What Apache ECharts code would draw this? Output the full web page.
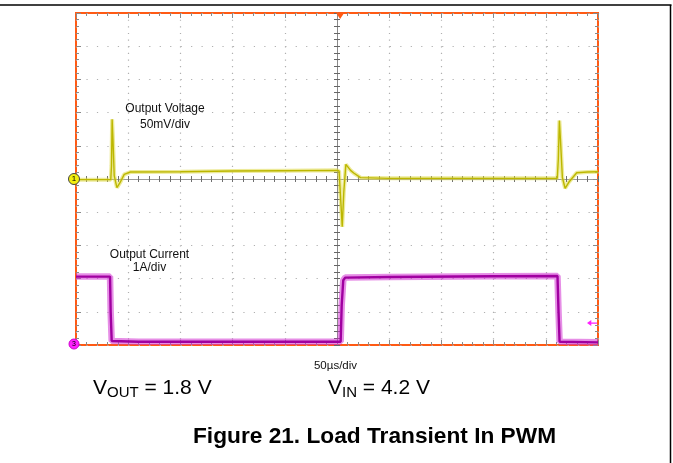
<!DOCTYPE html>
<html>
<head>
<meta charset="utf-8">
<script src="https://cdn.jsdelivr.net/npm/echarts@6/dist/echarts.min.js"></script>
<style>
  html, body { margin: 0; padding: 0; background: #fff; }
  #chart { width: 673px; height: 463px; }
</style>
</head>
<body>
<div id="chart"></div>
<script>
// ---- Data ----
// Time in µs (50 µs/div, 10 div), voltage deviation in mV (50 mV/div), current in A (1 A/div)
var voltTimes  = [0, 33.3, 34.0, 34.6, 35.4, 36.6, 39.2, 42, 46.2, 52, 100, 150, 200, 250, 252, 253.5, 255, 256.5, 258.5, 260, 263, 266, 272.5, 300, 350, 400, 461, 462, 463, 464, 465.9, 468.5, 472, 479.6, 490, 500];
var voltValues = [-1, -1, 20, 90, 60, 5, -13, -6, 7, 10.5, 11, 12, 12.5, 13, 12, -30, -72, -20, 22, 20, 13, 9, 2, 1, 1, 1, 1, 30, 88, 60, 2, -14, -5, 9.5, 10.5, 11];
var currTimes  = [0, 32.6, 33.2, 34.2, 60, 150, 253.5, 254.5, 256, 258, 300, 400, 461.2, 462.2, 463.2, 500];
var currValues = [2.06, 2.06, 1.0, 0.12, 0.1, 0.1, 0.1, 1.2, 1.95, 2.03, 2.05, 2.07, 2.08, 1.0, 0.1, 0.08];

function zip(a, b) { return a.map(function (t, i) { return [t, b[i]]; }); }
var voltData = zip(voltTimes, voltValues);
var currData = zip(currTimes, currValues);

var tickColor = '#8a8a8a';
var dotColor = '#b0b0b0';
var W = 522, H = 332;

function xTicks(pos, offset, len, minorLen, color, lineShow) {
  return {
    type: 'value', min: 0, max: 500, interval: 50, position: pos, offset: offset,
    axisLine: { show: !!lineShow, onZero: false, lineStyle: { color: '#9a9a9a', width: 1 } },
    axisTick: { show: true, inside: false, length: len, lineStyle: { color: color } },
    minorTick: { show: true, splitNumber: 5, length: minorLen, lineStyle: { color: color } },
    axisLabel: { show: false },
    splitLine: { show: false }
  };
}
function yTicks(pos, offset, len, minorLen, color, lineShow) {
  return {
    type: 'value', min: -250, max: 250, interval: 50, position: pos, offset: offset,
    axisLine: { show: !!lineShow, onZero: false, lineStyle: { color: '#8a8a8a', width: 1 } },
    axisTick: { show: true, inside: false, length: len, lineStyle: { color: color } },
    minorTick: { show: true, splitNumber: 5, length: minorLen, lineStyle: { color: color } },
    axisLabel: { show: false },
    splitLine: { show: false }
  };
}

// x axis 0: bottom edge ticks (placed at top, moved down to the bottom edge so ticks point up) + dotted grid
var xMain = xTicks('top', -H, 5, 3, tickColor, false);
xMain.splitLine = { show: true, lineStyle: { color: dotColor, width: 1.2, type: [1.2, 5.44] } };
// y axis 0: voltage axis, left edge ticks (placed at right, moved to the left edge so ticks point right) + dotted grid
var yMain = yTicks('right', -W, 5, 3, tickColor, false);
yMain.splitLine = { show: true, lineStyle: { color: dotColor, width: 1.2, type: [1.2, 9.26] } };

var chart = echarts.init(document.getElementById('chart'), null, { renderer: 'canvas' });
chart.setOption({
  animation: false,
  backgroundColor: '#ffffff',
  grid: { left: 76, top: 13, width: W, height: H, show: true, borderColor: '#ff5a14', borderWidth: 2, backgroundColor: 'transparent' },
  xAxis: [
    xMain,
    xTicks('bottom', -H, 5, 3, tickColor, false),          // top edge, ticks down
    xTicks('bottom', -H / 2, 3, 3, '#707070', true),        // centre line, ticks down
    xTicks('top', -H / 2, 3, 3, '#707070', false)           // centre line, ticks up
  ],
  yAxis: [
    yMain,
    { type: 'value', min: 0, max: 10, interval: 1, show: false, axisLine: { onZero: false } },
    yTicks('left', -W, 5, 3, tickColor, false),             // right edge, ticks left
    yTicks('left', -W / 2, 3, 3, '#666', true),             // centre line, ticks left
    yTicks('right', -W / 2, 3, 3, '#666', false)            // centre line, ticks right
  ],
  series: [
    { name: 'Output Voltage band', type: 'line', xAxisIndex: 0, yAxisIndex: 0, data: voltData, showSymbol: false, silent: true,
      lineStyle: { color: 'rgba(222,216,70,0.55)', width: 4 }, z: 3 },
    { name: 'Output Voltage', type: 'line', xAxisIndex: 0, yAxisIndex: 0, data: voltData, showSymbol: false,
      lineStyle: { color: '#bcb700', width: 1.4 }, z: 4,
      markPoint: {
        silent: true, animation: false,
        data: [
          { coord: [0, 0], symbol: 'circle', symbolSize: 11, symbolOffset: [-2, 0],
            itemStyle: { color: '#f2ee10', borderColor: '#444', borderWidth: 1 },
            label: { show: true, formatter: '1', color: '#000', fontSize: 8, fontFamily: 'Liberation Sans' } },
          { coord: [253, 250], symbol: 'triangle', symbolRotate: 180, symbolSize: [8, 6], symbolOffset: [0, 3],
            itemStyle: { color: '#ff5a14' }, label: { show: false } }
        ]
      }
    },
    { name: 'Output Current band', type: 'line', xAxisIndex: 0, yAxisIndex: 1, data: currData, showSymbol: false, silent: true,
      lineStyle: { color: 'rgba(210,50,210,0.55)', width: 6.5 }, z: 3 },
    { name: 'Output Current', type: 'line', xAxisIndex: 0, yAxisIndex: 1, data: currData, showSymbol: false,
      lineStyle: { color: '#a000a0', width: 2.4 }, z: 4,
      markPoint: {
        silent: true, animation: false,
        data: [
          { coord: [0, 0], symbol: 'circle', symbolSize: 10, symbolOffset: [-2, -1],
            itemStyle: { color: '#ff20ff', borderColor: '#d000d0', borderWidth: 1 },
            label: { show: true, formatter: '3', color: '#000', fontSize: 7, fontFamily: 'Liberation Sans' } },
          { coord: [500, 0.66], symbol: 'path://M0,5 L6,0 L6,4 L14,4 L14,6 L6,6 L6,10 Z', symbolSize: [10, 6], symbolOffset: [-6, 0],
            itemStyle: { color: '#ff20ff' }, label: { show: false } }
        ]
      }
    }
  ],
  graphic: [
    { type: 'line', shape: { x1: 0, y1: 5, x2: 671.5, y2: 5 }, style: { stroke: '#000', lineWidth: 1.5 } },
    { type: 'line', shape: { x1: 670.5, y1: 5, x2: 670.5, y2: 463 }, style: { stroke: '#000', lineWidth: 1.5 } },
    { type: 'text', style: { text: 'Output Voltage', x: 165, y: 108.5, font: '12px "Liberation Sans", Arial, sans-serif', fill: '#111', align: 'center', verticalAlign: 'middle' }, z: 10 },
    { type: 'text', style: { text: '50mV/div', x: 165, y: 124.5, font: '12px "Liberation Sans", Arial, sans-serif', fill: '#111', align: 'center', verticalAlign: 'middle' }, z: 10 },
    { type: 'text', style: { text: 'Output Current', x: 149.5, y: 254.5, font: '12px "Liberation Sans", Arial, sans-serif', fill: '#111', align: 'center', verticalAlign: 'middle' }, z: 10 },
    { type: 'text', style: { text: '1A/div', x: 149.5, y: 268, font: '12px "Liberation Sans", Arial, sans-serif', fill: '#111', align: 'center', verticalAlign: 'middle' }, z: 10 },
    { type: 'text', style: { text: '50µs/div', x: 335.5, y: 366, font: '11.5px "Liberation Sans", Arial, sans-serif', fill: '#111', align: 'center', verticalAlign: 'middle' }, z: 10 },
    { type: 'text', style: { x: 93, y: 388, verticalAlign: 'middle', text: '{m|V}{s|OUT}{m| = 1.8 V}',
        rich: { m: { fontSize: 21, fontFamily: '"Liberation Sans", Arial, sans-serif', fill: '#000' },
                s: { fontSize: 15, fontFamily: '"Liberation Sans", Arial, sans-serif', fill: '#000', padding: [9, 0, 0, 0] } } }, z: 10 },
    { type: 'text', style: { x: 328, y: 388, verticalAlign: 'middle', text: '{m|V}{s|IN}{m| = 4.2 V}',
        rich: { m: { fontSize: 21, fontFamily: '"Liberation Sans", Arial, sans-serif', fill: '#000' },
                s: { fontSize: 15, fontFamily: '"Liberation Sans", Arial, sans-serif', fill: '#000', padding: [9, 0, 0, 0] } } }, z: 10 },
    { type: 'text', style: { text: 'Figure 21. Load Transient In PWM', x: 193, y: 437, font: 'bold 22.7px "Liberation Sans", Arial, sans-serif', fill: '#000', align: 'left', verticalAlign: 'middle' }, z: 10 }
  ]
});
</script>
</body>
</html>
